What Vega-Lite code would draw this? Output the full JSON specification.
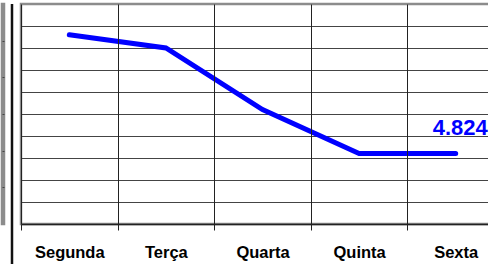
{
  "$schema": "https://vega.github.io/schema/vega-lite/v6.json",
  "padding": {"left": 0, "top": 2, "right": 0, "bottom": 0},
  "spacing": 2,
  "background": "white",
  "config": {
    "view": {"stroke": "#8c8c8c", "strokeWidth": 2.5},
    "font": "Liberation Sans"
  },
  "datasets": {
    "semana": [
      {"dia": "Segunda", "v": 4.878},
      {"dia": "Terça", "v": 4.872},
      {"dia": "Quarta", "v": 4.844},
      {"dia": "Quinta", "v": 4.824},
      {"dia": "Sexta", "v": 4.824}
    ],
    "fragmento": [{"g": 0}, {"g": 6}],
    "divisor": [{"d": 1}]
  },
  "hconcat": [
    {
      "width": 2,
      "height": 220,
      "data": {"name": "fragmento"},
      "mark": {"type": "rule", "opacity": 0, "strokeWidth": 0},
      "encoding": {
        "y": {
          "field": "g",
          "type": "quantitative",
          "scale": {"domain": [0, 6], "nice": false, "zero": false},
          "axis": {"title": null, "labels": false, "ticks": false, "domain": false, "grid": true, "gridColor": "#444", "gridWidth": 1, "values": [1, 2, 3, 4, 5]}
        }
      }
    },
    {
      "width": 9,
      "height": 262,
      "view": {"stroke": null},
      "data": {"name": "divisor"},
      "mark": {"type": "rule", "color": "#111", "strokeWidth": 2.5},
      "encoding": {"x": {"value": 4}}
    },
    {
      "width": 483,
      "height": 220,
      "data": {"name": "semana"},
      "encoding": {
        "x": {
          "field": "dia",
          "type": "nominal",
          "sort": null,
          "scale": {"paddingInner": 0, "paddingOuter": 0},
          "axis": {
            "title": null, "labelAngle": 0, "tickBand": "extent",
            "grid": true, "gridColor": "#222", "gridWidth": 1,
            "ticks": true, "tickSize": 6, "tickColor": "#222", "tickWidth": 1,
            "domain": true, "domainColor": "#222", "domainWidth": 1.5,
            "labelFont": "Liberation Sans", "labelFontWeight": "bold", "labelFontSize": 16.5,
            "labelColor": "#000", "labelPadding": 14, "zindex": 1
          }
        },
        "y": {
          "field": "v",
          "type": "quantitative",
          "scale": {"domain": [4.792, 4.892], "nice": false, "zero": false},
          "axis": {
            "title": null, "labels": false, "ticks": false, "domain": false,
            "grid": true, "gridColor": "#444", "gridWidth": 1,
            "values": [4.802, 4.812, 4.822, 4.832, 4.842, 4.852, 4.862, 4.872, 4.882]
          }
        }
      },
      "layer": [
        {"mark": {"type": "line", "color": "#0000ff", "strokeWidth": 5, "strokeCap": "round"}},
        {
          "transform": [{"filter": "datum.dia === 'Sexta'"}],
          "mark": {"type": "text", "color": "#0000ff", "font": "Liberation Sans", "fontWeight": "bold", "fontSize": 22, "align": "left", "baseline": "alphabetic", "dx": -23, "dy": -19},
          "encoding": {"text": {"field": "v", "type": "quantitative", "format": ".3f"}}
        }
      ]
    }
  ]
}
